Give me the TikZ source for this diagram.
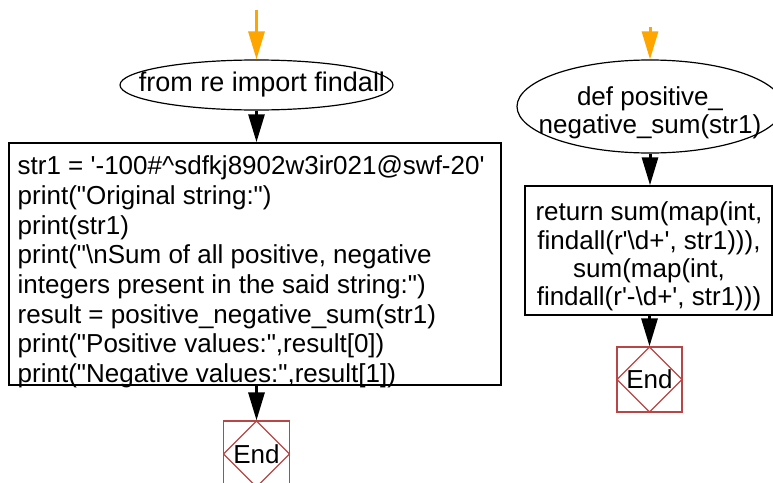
\documentclass[tikz,border=0pt]{standalone}
\usepackage{fontspec}
\setmainfont{Liberation Sans}
\usetikzlibrary{arrows.meta,shapes.geometric}
\definecolor{endred}{RGB}{185,70,70}
\definecolor{startor}{RGB}{255,165,0}
\newcommand{\sq}{\textquotesingle}
\newcommand{\dq}{\textquotedbl}
\newcommand{\bs}{\textbackslash}
\tikzset{
  txt/.style={font=\fontsize{26}{29.7}\selectfont, inner sep=0pt},
  rtxt/.style={font=\fontsize{26}{28.3}\selectfont, inner sep=0pt},
  ell/.style={ellipse, draw, line width=1.2pt, inner sep=0pt},
  codebox/.style={rectangle, draw, line width=1.5pt, inner sep=0pt},
  endbox/.style={rectangle, draw=endred, line width=1.2pt, minimum width=66pt,
    minimum height=66pt, inner sep=0pt, font=\fontsize{26}{29}\selectfont,
    path picture={\draw[endred, line width=1.2pt] (path picture bounding box.north)
      -- (path picture bounding box.east) -- (path picture bounding box.south)
      -- (path picture bounding box.west) -- cycle;}},
  flow/.style={line width=3pt, -{Triangle[length=28pt,width=16pt]}},
}
\begin{document}
\begin{tikzpicture}[x=1pt,y=-1pt]
\useasboundingbox (0,0) rectangle (773,482);
\clip (0,0) rectangle (773,482);
% left flow
\coordinate (s1) at (256.5,10);
\node[ell, minimum width=273pt, minimum height=50pt] (e1) at (256.5,85) {};
\node[inner sep=0pt, font=\fontsize{27}{30}\selectfont] (e1t) at (262,85) {from re import findall};
\node[codebox, minimum width=492pt, minimum height=242pt] (b1) at (255,264) {};
\node[txt, align=left, anchor=west] (b1t) at (17.5,272) {str1 = \sq-100\#\textasciicircum sdfkj8902w3ir021@swf-20\sq\\
print(\dq Original string:\dq)\\
print(str1)\\
print(\dq\bs nSum of all positive, negative\\
integers present in the said string:\dq)\\
result = positive\_negative\_sum(str1)\\
print(\dq Positive values:\dq,result[0])\\
print(\dq Negative values:\dq,result[1])};
\node[endbox] (end1) at (256.5,454) {End};
\draw[flow, startor] (s1) -- (e1.north);
\draw[flow] (e1.south) -- (e1.south |- b1.north);
\draw[flow] (end1.north |- b1.south) -- (end1.north);
% right flow
\coordinate (s2) at (650,27);
\node[ell, minimum width=266pt, minimum height=93pt] (e2) at (650,106.5) {};
\node[rtxt, align=center] (e2t) at (650,113) {def positive\_\\negative\_sum(str1)};
\node[codebox, minimum width=247pt, minimum height=129pt] (b2) at (648.5,250.5) {};
\node[rtxt, align=center] (b2t) at (649,256.5)
  {return sum(map(int,\\findall(r\sq\bs d+\sq, str1))),\\sum(map(int,\\findall(r\sq-\bs d+\sq, str1)))};
\node[endbox, minimum width=65pt, minimum height=65pt] (end2) at (649.5,379.5) {End};
\draw[flow, startor] (s2) -- (e2.north);
\draw[flow] (e2.south) -- (e2.south |- b2.north);
\draw[flow] (end2.north |- b2.south) -- (end2.north);
\end{tikzpicture}
\end{document}
